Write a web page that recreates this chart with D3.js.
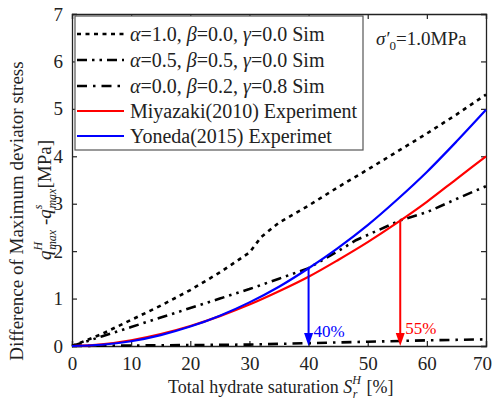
<!DOCTYPE html>
<html><head><meta charset="utf-8">
<script src="https://cdn.jsdelivr.net/npm/d3@7/dist/d3.min.js"></script>
<style>
body{margin:0;background:#fff;}
svg text{font-family:"Liberation Serif","Times New Roman",Times,"DejaVu Serif",serif !important;fill:#222;}
</style></head>
<body><svg id="c" width="494" height="405"></svg>
<script>
// ---- data ----
const xTicks = [0,10,20,30,40,50,60,70];
const yTicks = [0,1,2,3,4,5,6,7];
const simA_S = [0,5,10,15,20,25,30,32,35,40,45,50,55,60,65,70];
const simA_V = [0,0.25,0.55,0.85,1.18,1.55,1.97,2.3,2.6,2.96,3.35,3.72,4.1,4.48,4.88,5.3];
const simB_S = [0,5,10,15,20,25,30,35,40,45,48,55.5,60,65,70];
const simB_V = [0,0.2,0.4,0.6,0.8,1.0,1.2,1.42,1.64,2.0,2.23,2.65,2.82,3.1,3.37];
const simC_S = [0,5,10,20,30,40,50,60,70];
const simC_V = [0,0.005,0.01,0.02,0.03,0.06,0.09,0.12,0.14];
const miya_S = [0,5,10,15,20,25,30,35,40,45,50,55,60,65,70];
const miya_V = [0,0.035,0.121,0.251,0.421,0.63,0.874,1.154,1.46,1.814,2.19,2.6,3.04,3.52,4.0];
const yone_S = [0,5,10,15,20,25,30,35,40,45,50,55,60,65,70];
const yone_V = [0,0.026,0.10,0.23,0.41,0.64,0.92,1.25,1.64,2.07,2.55,3.09,3.67,4.31,4.98];
const arrowS = [40,55.5];
const arrowV = [1.64,2.64];
const arrowLabels = ["40%","55%"];
const arrowColors = ["#0000ff","#ff0000"];

const svg = d3.select("#c");
const m = {l:72,r:486,t:14,b:346};
const x = d3.scaleLinear().domain([0,70]).range([m.l,m.r]);
const y = d3.scaleLinear().domain([0,7]).range([m.b,m.t]);

const ax = (g)=>g.selectAll(".domain").attr("stroke","#222").attr("stroke-width",1.3);
const fixText = g=>g.attr("font-family",null).selectAll("text").attr("font-size",19);
svg.append("g").attr("transform",`translate(0,${m.b})`)
  .call(d3.axisBottom(x).tickValues(xTicks).tickSize(-5).tickPadding(11).tickFormat(d3.format("d")))
  .call(ax).call(fixText)
  .call(g=>g.selectAll("text").filter(d=>d===70).attr("dx",-4));
svg.append("g").attr("transform",`translate(0,${m.t})`)
  .call(d3.axisTop(x).tickValues(xTicks).tickSize(-5).tickFormat(""))
  .call(ax);
svg.append("g").attr("transform",`translate(${m.l},0)`)
  .call(d3.axisLeft(y).tickValues(yTicks).tickSize(-5).tickPadding(9).tickFormat(d3.format("d")))
  .call(ax).call(fixText);
svg.append("g").attr("transform",`translate(${m.r},0)`)
  .call(d3.axisRight(y).tickValues(yTicks).tickSize(-5).tickFormat(""))
  .call(ax);
svg.selectAll(".tick line").attr("stroke","#222").attr("stroke-width",1.2);

const line = (S,V,curve)=>d3.line().x((d,i)=>x(S[i])).y((d,i)=>y(V[i])).curve(curve)(S);
const series = [
  {S:simA_S,V:simA_V,color:"#000",dash:"4,4.5",w:2.6,curve:d3.curveLinear},
  {S:simB_S,V:simB_V,color:"#000",dash:"10,5,2.5,5,2.5,5",w:2.6,curve:d3.curveLinear},
  {S:simC_S,V:simC_V,color:"#000",dash:"10,6,2.5,6",w:2.6,curve:d3.curveLinear},
  {S:miya_S,V:miya_V,color:"#ff0000",dash:null,w:2.2,curve:d3.curveMonotoneX},
  {S:yone_S,V:yone_V,color:"#0000ff",dash:null,w:2.2,curve:d3.curveMonotoneX},
];
series.forEach(s=>{
  svg.append("path").attr("d",line(s.S,s.V,s.curve)).attr("fill","none")
    .attr("stroke",s.color).attr("stroke-width",s.w).attr("stroke-dasharray",s.dash);
});

arrowS.forEach((s,i)=>{
  const c = arrowColors[i];
  svg.append("line").attr("x1",x(s)).attr("x2",x(s)).attr("y1",y(arrowV[i])).attr("y2",y(0)-10)
    .attr("stroke",c).attr("stroke-width",2);
  svg.append("path").attr("d",`M${x(s)-4.5},${y(0)-13}L${x(s)+4.5},${y(0)-13}L${x(s)},${y(0)}Z`).attr("fill",c);
  svg.append("text").attr("x",x(s)+5).attr("y",i==0?336.5:333.5).attr("font-size",17)
    .style("fill",c).text(arrowLabels[i]);
});

const lg = svg.append("g");
lg.append("rect").attr("x",75).attr("y",16).attr("width",288).attr("height",134)
  .attr("fill","#fff").attr("stroke","#555").attr("stroke-width",1.2);
const rows = [34,60,86,111,136];
const greek = [["1.0","0.0","0.0"],["0.5","0.5","0.0"],["0.0","0.2","0.8"]];
series.forEach((s,i)=>{
  lg.append("line").attr("x1",77).attr("x2",124).attr("y1",rows[i]).attr("y2",rows[i])
    .attr("stroke",s.color).attr("stroke-width",s.w).attr("stroke-dasharray",s.dash);
  const t = lg.append("text").attr("x",130).attr("y",rows[i]+7).attr("font-size",20);
  if(i<3){
    const g = greek[i];
    t.append("tspan").attr("font-style","italic").text("α");
    t.append("tspan").text(`=${g[0]}, `);
    t.append("tspan").attr("font-style","italic").text("β");
    t.append("tspan").text(`=${g[1]}, `);
    t.append("tspan").attr("font-style","italic").text("γ");
    t.append("tspan").text(`=${g[2]} Sim`);
  } else {
    t.text(i==3?"Miyazaki(2010) Experiment":"Yoneda(2015) Experimet");
  }
});

const sg = svg.append("text").attr("x",376).attr("y",45).attr("font-size",19);
sg.append("tspan").attr("font-style","italic").text("σ′");
sg.append("tspan").attr("font-size",13).attr("dy",5).text("0");
sg.append("tspan").attr("dy",-5).text("=1.0MPa");

// x title
const xt = svg.append("text").attr("x",168).attr("y",393).attr("font-size",18);
xt.append("tspan").text("Total hydrate saturation ");
xt.append("tspan").attr("font-style","italic").text("S");
xt.append("tspan").attr("font-style","italic").attr("font-size",12).attr("dy",-9).text("H");
xt.append("tspan").attr("font-style","italic").attr("font-size",12).attr("dy",14).attr("dx",-8).text("r");
xt.append("tspan").attr("dy",-5).attr("dx",9).text("[%]");

// y title
svg.append("text").attr("transform","translate(23,211) rotate(-90)").attr("text-anchor","middle")
  .attr("font-size",19).text("Difference of Maximum deviator stress");
const yt = svg.append("text").attr("transform","translate(51,200) rotate(-90)").attr("text-anchor","middle")
  .attr("font-size",19);
yt.append("tspan").attr("font-style","italic").text("q");
yt.append("tspan").attr("font-style","italic").attr("font-size",12).attr("dy",-9).text("H");
yt.append("tspan").attr("font-style","italic").attr("font-size",12).attr("dy",14).attr("dx",-8).text("max");
yt.append("tspan").attr("dy",-5).text(" -");
yt.append("tspan").attr("font-style","italic").text("q");
yt.append("tspan").attr("font-style","italic").attr("font-size",12).attr("dy",-9).text("s");
yt.append("tspan").attr("font-style","italic").attr("font-size",12).attr("dy",14).attr("dx",-4).text("max");
yt.append("tspan").attr("dy",-5).text("[MPa]");
</script></body></html>
